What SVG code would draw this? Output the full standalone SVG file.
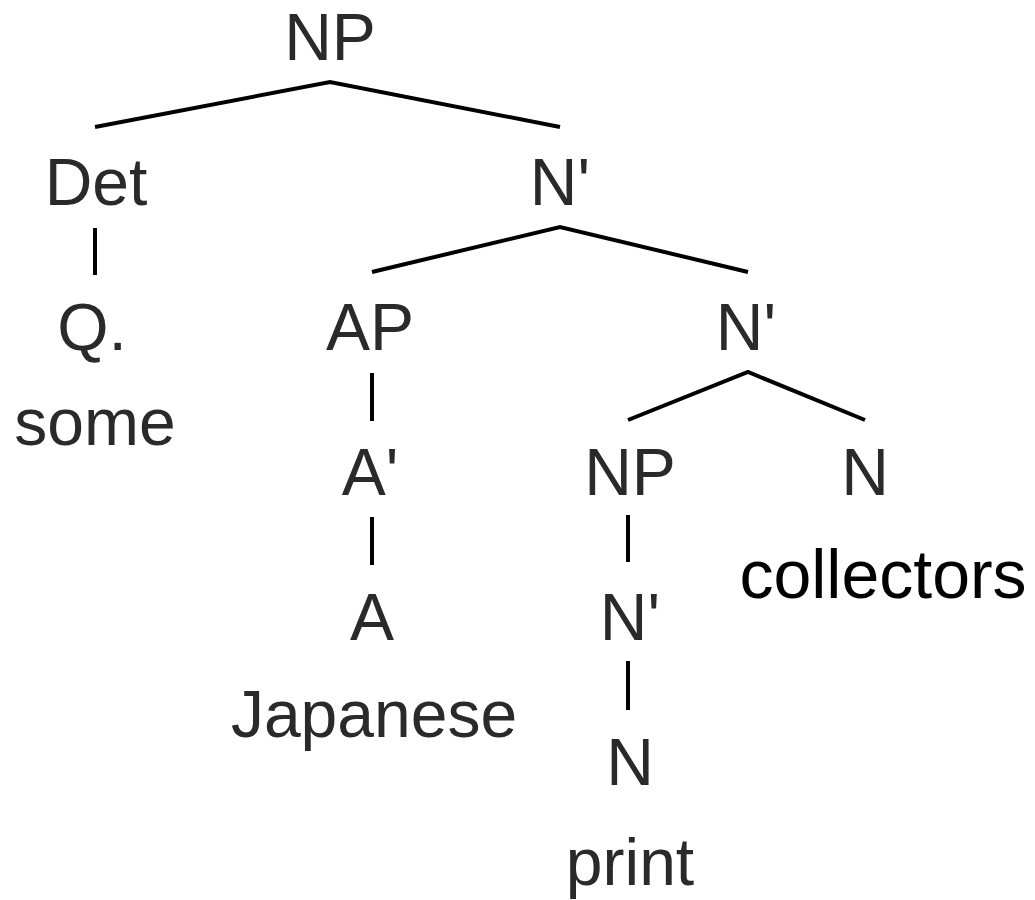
<svg xmlns="http://www.w3.org/2000/svg" width="1035" height="900" viewBox="0 0 1035 900">
  <style>
    .lbl { font-family: "Liberation Sans", Arial, sans-serif; font-size: 66px; fill: #2a2a2a; text-anchor: middle; }
    .word { fill: #000; }
    .edge { stroke: #000; stroke-width: 4; fill: none; stroke-linecap: butt; }
  </style>
  <rect width="1035" height="900" fill="#fff"/>

  <g id="connectors">
    <polyline class="edge" points="95,127 330,82 560,127"/>
    <line class="edge" x1="95" y1="228" x2="95" y2="275"/>
    <polyline class="edge" points="372,272 560,227 748,272"/>
    <line class="edge" x1="372" y1="373" x2="372" y2="421"/>
    <polyline class="edge" points="628,420 748,372 865,420"/>
    <line class="edge" x1="372" y1="517" x2="372" y2="565"/>
    <line class="edge" x1="628" y1="515" x2="628" y2="562"/>
    <line class="edge" x1="628" y1="661" x2="628" y2="710"/>
  </g>

  <g id="np-root"><text class="lbl" x="330" y="60">NP</text></g>
  <g id="det"><text class="lbl" x="96" y="205">Det</text></g>
  <g id="nbar-1"><text class="lbl" x="560" y="205">N'</text></g>
  <g id="q"><text class="lbl" x="92" y="350">Q.</text></g>
  <g id="some"><text class="lbl" x="95" y="445">some</text></g>
  <g id="ap"><text class="lbl" x="370" y="350">AP</text></g>
  <g id="nbar-2"><text class="lbl" x="746" y="350">N'</text></g>
  <g id="abar"><text class="lbl" x="370" y="495">A'</text></g>
  <g id="np-inner"><text class="lbl" x="630" y="495">NP</text></g>
  <g id="n-head"><text class="lbl" x="865" y="495">N</text></g>
  <g id="collectors"><text class="lbl word" x="883" y="598" style="font-size:68px">collectors</text></g>
  <g id="a"><text class="lbl" x="372" y="640">A</text></g>
  <g id="nbar-3"><text class="lbl" x="630" y="640">N'</text></g>
  <g id="japanese"><text class="lbl" x="374" y="737">Japanese</text></g>
  <g id="n-print"><text class="lbl" x="630" y="785">N</text></g>
  <g id="print"><text class="lbl" x="630" y="885">print</text></g>
</svg>
